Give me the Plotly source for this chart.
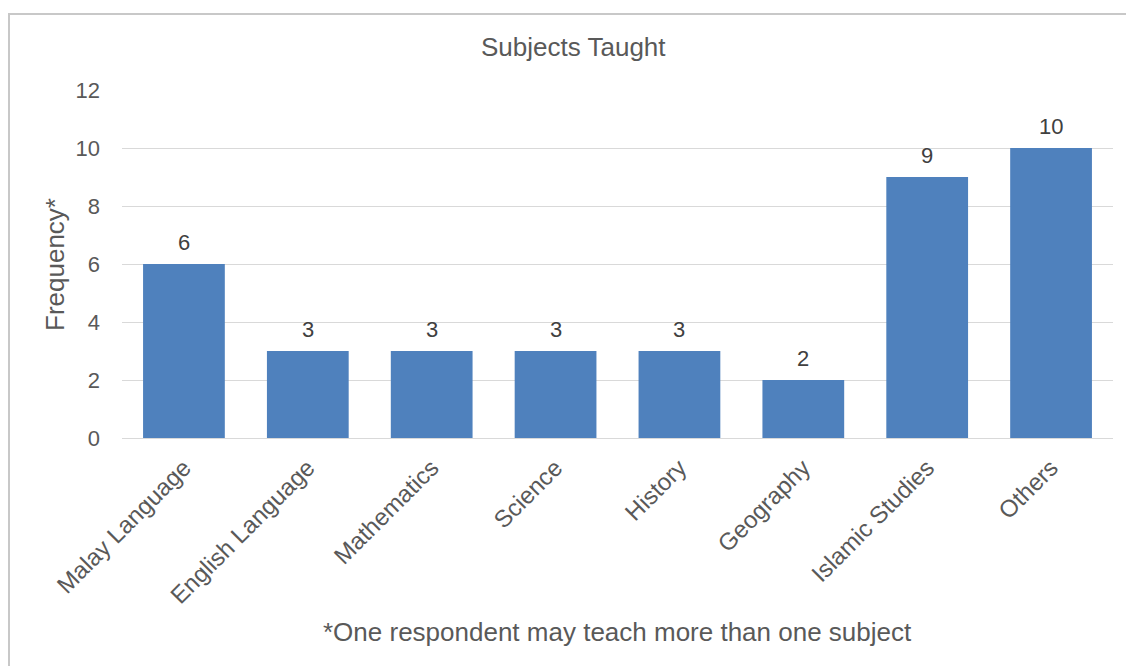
import plotly.graph_objects as go

subjects = ["Malay Language", "English Language", "Mathematics", "Science",
            "History", "Geography", "Islamic Studies", "Others"]
frequency = [6, 3, 3, 3, 3, 2, 9, 10]
y_ticks = [0, 2, 4, 6, 8, 10, 12]

W, H = 1126, 666
L, R, T, B = 122, 13, 90, 228
pw, ph = W - L - R, H - T - B

def px(x):
    return (x - L) / pw

def py(y):
    return 1 - (y - T) / ph

FONT = "Liberation Sans, Arial, sans-serif"
TXT = "#595959"

fig = go.Figure(go.Bar(
    x=subjects, y=frequency,
    marker=dict(color="#4F81BD", line=dict(width=0)),
    hoverinfo="x+y",
))

# value labels above each bar
value_labels = [dict(x=s, y=v, xref="x", yref="y", text=str(v), showarrow=False,
                     yanchor="middle", yshift=22,
                     font=dict(size=22, color="#404040"))
                for s, v in zip(subjects, frequency)]

fig.update_layout(
    width=W, height=H,
    margin=dict(l=L, r=R, t=T, b=B),
    paper_bgcolor="white", plot_bgcolor="white",
    font=dict(family=FONT, color=TXT),
    bargap=0.34, showlegend=False,
    xaxis=dict(tickangle=-45, tickfont=dict(size=24, color=TXT),
               showgrid=False, showline=False, ticks="", ticklabelstandoff=10),
    yaxis=dict(range=[0, 12], tickvals=y_ticks, tickfont=dict(size=22, color=TXT),
               gridcolor="#D9D9D9", gridwidth=1, zeroline=True,
               zerolinecolor="#D9D9D9", zerolinewidth=1,
               showline=False, ticks="", ticklabelstandoff=21),
    shapes=[dict(type="rect", xref="paper", yref="paper",
                 x0=px(9), x1=px(W + 10), y0=py(H + 10), y1=py(14),
                 line=dict(color="#C8C8C8", width=2), fillcolor="rgba(0,0,0,0)",
                 layer="below")],
    annotations=value_labels + [
        dict(text="Subjects Taught", xref="paper", yref="paper",
             x=px(573), y=py(47), showarrow=False,
             font=dict(size=26, color=TXT), xanchor="center", yanchor="middle"),
        dict(text="Frequency*", xref="paper", yref="paper",
             x=px(55), y=py(265), showarrow=False, textangle=-90,
             font=dict(size=26, color=TXT), xanchor="center", yanchor="middle"),
        dict(text="*One respondent may teach more than one subject", xref="paper", yref="paper",
             x=px(617), y=py(632), showarrow=False,
             font=dict(size=26, color=TXT), xanchor="center", yanchor="middle"),
    ],
)

fig.write_html("out.html")
